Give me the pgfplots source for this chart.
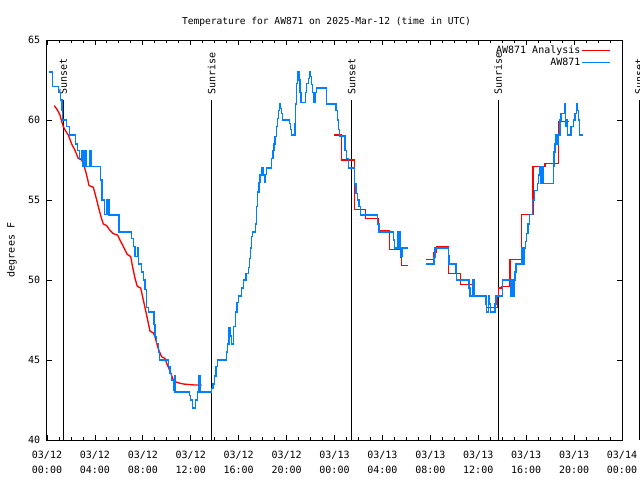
\documentclass[border=0pt]{standalone}
\usepackage{fontspec}
\setmonofont{DejaVu Sans Mono}
\usepackage{pgfplots}
\pgfplotsset{compat=1.18}
\definecolor{obsblue}{RGB}{0,128,255}
\definecolor{anred}{RGB}{255,0,0}
\newcommand{\gfont}{\ttfamily\fontsize{7.5}{11.25}\selectfont}
\begin{document}
\begin{tikzpicture}[x=0.75pt,y=0.75pt]
\begin{axis}[
  at={(0,0)}, anchor=south west,
  scale only axis, width=431.25pt, height=300pt,
  xmin=0, xmax=48, ymin=40, ymax=65,
  xtick={0,4,...,48},
  xticklabels={{03/12\\00:00},{03/12\\04:00},{03/12\\08:00},{03/12\\12:00},{03/12\\16:00},{03/12\\20:00},{03/13\\00:00},{03/13\\04:00},{03/13\\08:00},{03/13\\12:00},{03/13\\16:00},{03/13\\20:00},{03/14\\00:00}},
  minor x tick num=3,
  ytick={40,45,...,65},
  tick align=inside,
  major tick length=3.75pt, minor tick length=1.9pt,
  every tick/.style={black, line width=0.6pt},
  axis line style={line width=0.75pt},
  tick label style={font=\gfont},
  /pgf/number format/assume math mode=true,
  xticklabel style={align=center, inner sep=0pt, yshift=-8.25pt},
  yticklabel style={inner sep=0pt, xshift=-5pt},
  clip=false,
  legend style={at={(rel axis cs:1,1)}, anchor=north east, xshift=-5pt, yshift=-1.25pt,
    draw=none, fill=none, font=\gfont, row sep=0pt,
    nodes={inner sep=1pt, text height=5.5pt, text depth=1.5pt}},
  legend cell align=right,
  legend plot pos=right,
  legend image code/.code={\draw[#1] (4pt,0pt) -- (25pt,0pt);},
]
% sunrise / sunset markers
\addplot[black, line width=0.75pt, forget plot] coordinates {(1.36,40) (1.36,61.25)};
\addplot[black, line width=0.75pt, forget plot] coordinates {(13.75,40) (13.75,61.25)};
\addplot[black, line width=0.75pt, forget plot] coordinates {(25.43,40) (25.43,61.25)};
\addplot[black, line width=0.75pt, forget plot] coordinates {(37.67,40) (37.67,61.25)};
\addplot[black, line width=0.75pt, forget plot] coordinates {(49.42,40) (49.42,61.25)};
\node[rotate=90, anchor=west, inner sep=0pt, font=\gfont] at (axis cs:1.36,61.55) {Sunset};
\node[rotate=90, anchor=west, inner sep=0pt, font=\gfont] at (axis cs:13.75,61.55) {Sunrise};
\node[rotate=90, anchor=west, inner sep=0pt, font=\gfont] at (axis cs:25.43,61.55) {Sunset};
\node[rotate=90, anchor=west, inner sep=0pt, font=\gfont] at (axis cs:37.67,61.55) {Sunrise};
\node[rotate=90, anchor=west, inner sep=0pt, font=\gfont] at (axis cs:49.42,61.55) {Sunset};

% AW871 Analysis
\addplot[anred, line width=1pt] coordinates {
(0.61,60.9) (0.89,60.6) (1.09,60.3) (1.23,59.9) (1.36,59.6) (1.56,59.3) (1.78,59.06) (2.06,58.5) (2.34,58.1) (2.61,57.6) (2.90,57.5) (3.11,57.1) (3.31,56.56) (3.51,55.9) (3.86,55.8) (4.01,55.4) (4.15,55.0) (4.28,54.6) (4.42,54.2) (4.57,53.8) (4.70,53.5) (4.98,53.4) (5.26,53.1) (5.53,52.9) (5.90,52.8) (6.09,52.5) (6.37,52.1) (6.70,51.6) (6.99,51.46) (7.15,50.8) (7.35,50.1) (7.54,49.6) (7.82,49.5) (8.04,48.75) (8.26,48.0) (8.46,47.3) (8.60,46.8) (8.87,46.7) (9.01,46.46) (9.29,45.7) (9.57,45.2) (9.85,45.1) (9.99,44.8) (10.27,44.3) (10.54,43.75) (10.83,43.6) (11.38,43.5) (12.27,43.44) (12.91,43.44)
};
\addlegendentry{AW871 Analysis}
\addplot[anred, line width=1pt, const plot, forget plot] coordinates {
(23.98,59.06) (24.60,57.5) (25.65,54.4) (26.60,53.85) (27.65,53.1) (28.57,51.9) (29.55,51.4) (29.61,50.9) (30.16,50.9)
};
\addplot[anred, line width=1pt, const plot, forget plot] coordinates {
(31.64,51.3) (32.30,51.7) (32.53,52.1) (33.50,50.4) (34.53,49.7) (35.67,49.0) (36.70,48.3) (37.59,49.0) (37.67,49.5) (37.98,49.6) (38.65,51.3) (39.62,54.1) (40.56,57.1) (41.57,57.3) (42.68,59.9) (43.60,59.9)
};

% AW871 observations
\addplot[obsblue, line width=1pt, const plot] coordinates {
(0.17,63.0) (0.44,62.1) (0.94,61.7) (1.13,61.25) (1.25,60.6) (1.31,60.0) (1.64,59.6) (1.86,59.06) (2.40,58.5) (2.56,58.1) (2.70,57.6) (2.86,58.1) (3.00,57.1) (3.17,58.1) (3.31,57.1) (3.59,58.1) (3.73,57.1) (4.48,56.25) (4.59,55.0) (4.78,54.1) (5.01,55.0) (5.18,54.06) (6.01,53.0) (7.07,52.6) (7.20,52.1) (7.35,51.46) (7.54,52.0) (7.62,51.0) (7.90,50.5) (8.04,50.0) (8.18,49.4) (8.32,48.3) (8.46,48.0) (8.93,47.2) (9.01,46.46) (9.16,46.04) (9.29,45.5) (9.37,45.0) (10.13,44.6) (10.27,44.17) (10.41,43.75) (10.54,43.1) (10.62,44.0) (10.68,43.0) (11.88,42.8) (11.99,42.5) (12.13,42.0) (12.41,42.5) (12.55,43.0) (12.69,44.0) (12.80,43.0) (13.75,43.2) (13.86,43.5) (13.96,44.0) (14.11,44.6) (14.22,45.0) (15.00,45.5) (15.08,46.0) (15.19,47.0) (15.32,46.5) (15.42,46.0) (15.55,47.1) (15.72,48.0) (15.86,48.6) (15.98,49.0) (16.25,49.5) (16.39,50.0) (16.61,50.4) (16.80,50.8) (16.92,51.35) (17.00,52.0) (17.09,52.7) (17.17,53.0) (17.42,53.5) (17.50,54.6) (17.59,55.5) (17.70,56.1) (17.78,56.56) (17.92,57.04) (18.03,56.56) (18.14,56.1) (18.24,56.6) (18.34,57.0) (18.76,57.6) (18.86,58.1) (18.95,58.5) (19.03,58.96) (19.14,59.6) (19.22,60.1) (19.31,60.6) (19.39,61.0) (19.47,60.7) (19.59,60.4) (19.64,60.0) (20.22,59.8) (20.34,59.4) (20.43,59.06) (20.70,59.8) (20.76,61.0) (20.84,62.3) (20.93,63.0) (21.03,62.5) (21.12,61.7) (21.20,61.1) (21.59,61.7) (21.68,62.3) (21.81,62.6) (21.89,63.0) (21.98,62.7) (22.06,62.2) (22.18,61.7) (22.29,61.1) (22.37,61.7) (22.48,62.0) (23.35,61.0) (24.12,60.6) (24.23,60.0) (24.31,59.4) (24.40,59.0) (24.87,58.1) (24.98,57.6) (25.15,57.0) (25.65,56.0) (25.79,55.4) (25.92,55.0) (26.04,54.6) (26.18,54.06) (27.57,53.5) (27.71,53.0) (28.91,52.5) (29.02,52.0) (29.24,53.0) (29.32,52.0) (29.41,53.0) (29.49,52.0) (29.55,51.46) (29.63,52.0) (30.16,52.0)
};
\addlegendentry{AW871}
\addplot[obsblue, line width=1pt, const plot, forget plot] coordinates {
(31.64,51.0) (32.30,51.4) (32.39,52.0) (33.50,51.5) (33.55,51.0) (34.14,50.5) (34.20,50.0) (35.22,49.5) (35.31,49.0) (35.53,50.0) (35.64,49.0) (36.64,48.5) (36.70,48.0) (36.84,49.0) (36.92,48.5) (37.04,48.0) (37.39,48.5) (37.48,49.0) (38.00,50.0) (38.73,49.0) (38.81,50.0) (38.90,49.0) (38.98,50.0) (39.06,50.5) (39.15,51.0) (39.62,52.0) (39.73,51.0) (39.84,52.0) (39.96,52.4) (40.04,52.9) (40.15,53.5) (40.26,54.1) (40.54,55.0) (40.68,55.6) (40.93,56.04) (41.01,56.56) (41.15,57.1) (41.23,56.04) (41.32,57.1) (41.43,56.04) (42.26,57.1) (42.32,58.0) (42.40,58.5) (42.49,59.06) (42.59,58.5) (42.69,59.06) (42.82,60.0) (42.90,60.4) (43.18,61.0) (43.26,59.6) (43.35,60.0) (43.43,59.06) (43.74,59.6) (43.93,60.0) (44.07,60.4) (44.18,61.0) (44.30,60.6) (44.38,60.0) (44.43,59.06) (44.71,59.06)
};
\end{axis}
\node[font=\ttfamily\fontsize{7.2}{9}\selectfont] at (279.5,418) {Temperature for AW871 on 2025-Mar-12 (time in UTC)};
\node[font=\gfont, rotate=90] at (-35,190) {degrees F};
\pgfresetboundingbox
\useasboundingbox (-47,-40) rectangle (593,440);
\end{tikzpicture}
\end{document}
